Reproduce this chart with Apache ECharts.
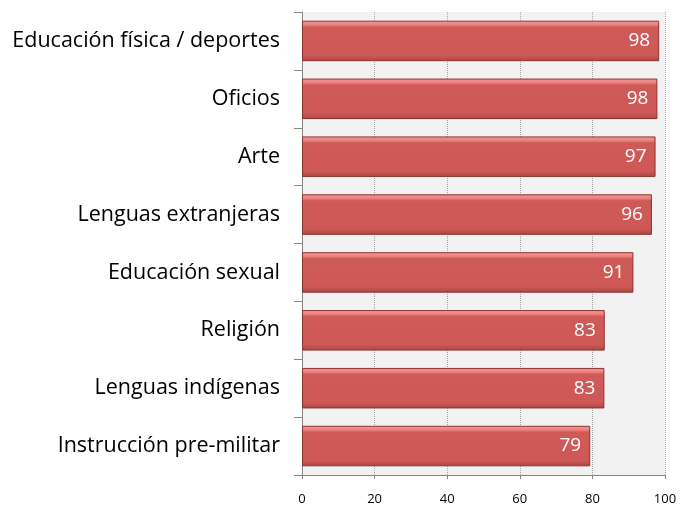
<!DOCTYPE html>
<html>
<head>
<meta charset="utf-8">
<script src="https://cdn.jsdelivr.net/npm/echarts@6/dist/echarts.min.js"></script>
<style>
  html, body { margin: 0; padding: 0; background: #fff; }
  #chart { width: 680px; height: 506px; }
</style>
</head>
<body>
<div id="chart"></div>
<script>
// categorías de abajo hacia arriba
const categories = [
  "Instrucción pre-militar",
  "Lenguas indígenas",
  "Religión",
  "Educación sexual",
  "Lenguas extranjeras",
  "Arte",
  "Oficios",
  "Educación física / deportes"
];
// porcentajes (la etiqueta muestra el valor redondeado)
const values = [79.4, 83.3, 83.4, 91.3, 96.4, 97.4, 97.9, 98.4];
const xTicks = [0, 20, 40, 60, 80, 100];

const chart = echarts.init(document.getElementById("chart"));

chart.setOption({
  animation: false,
  grid: {
    left: 302,
    right: 15,
    top: 12,
    bottom: 31,
    show: true,
    backgroundColor: "#F2F2F2",
    borderWidth: 0
  },
  xAxis: {
    type: "value",
    min: xTicks[0],
    max: xTicks[xTicks.length - 1],
    interval: 20,
    axisLine: { show: true, lineStyle: { color: "#868686", width: 1 } },
    axisTick: { show: true, length: 4, lineStyle: { color: "#868686" } },
    axisLabel: {
      color: "#000",
      fontFamily: "Open Sans",
      fontSize: 13,
      margin: 18
    },
    splitLine: {
      show: true,
      lineStyle: { color: "#A6A6A6", type: "dotted", width: 1 }
    }
  },
  yAxis: {
    type: "category",
    data: categories,
    axisLine: { show: true, lineStyle: { color: "#868686", width: 1 } },
    axisTick: { show: true, length: 8, lineStyle: { color: "#868686" } },
    axisLabel: {
      color: "#000",
      fontFamily: "Open Sans",
      fontSize: 21.5,
      margin: 22
    },
    splitLine: { show: false }
  },
  series: [
    {
      type: "bar",
      data: values,
      barCategoryGap: "30%",
      itemStyle: {
        color: new echarts.graphic.LinearGradient(0, 0, 0, 1, [
          { offset: 0, color: "#F49896" },
          { offset: 0.1, color: "#EB8280" },
          { offset: 0.16, color: "#CF5B59" },
          { offset: 0.86, color: "#CD5856" },
          { offset: 1, color: "#A94644" }
        ]),
        borderColor: "#8C3331",
        borderWidth: 1
      },
      label: {
        show: true,
        position: "insideRight",
        color: "#fff",
        fontFamily: "Open Sans",
        fontSize: 19,
        distance: 9,
        formatter: (p) => Math.round(p.value)
      }
    }
  ]
});
</script>
</body>
</html>
